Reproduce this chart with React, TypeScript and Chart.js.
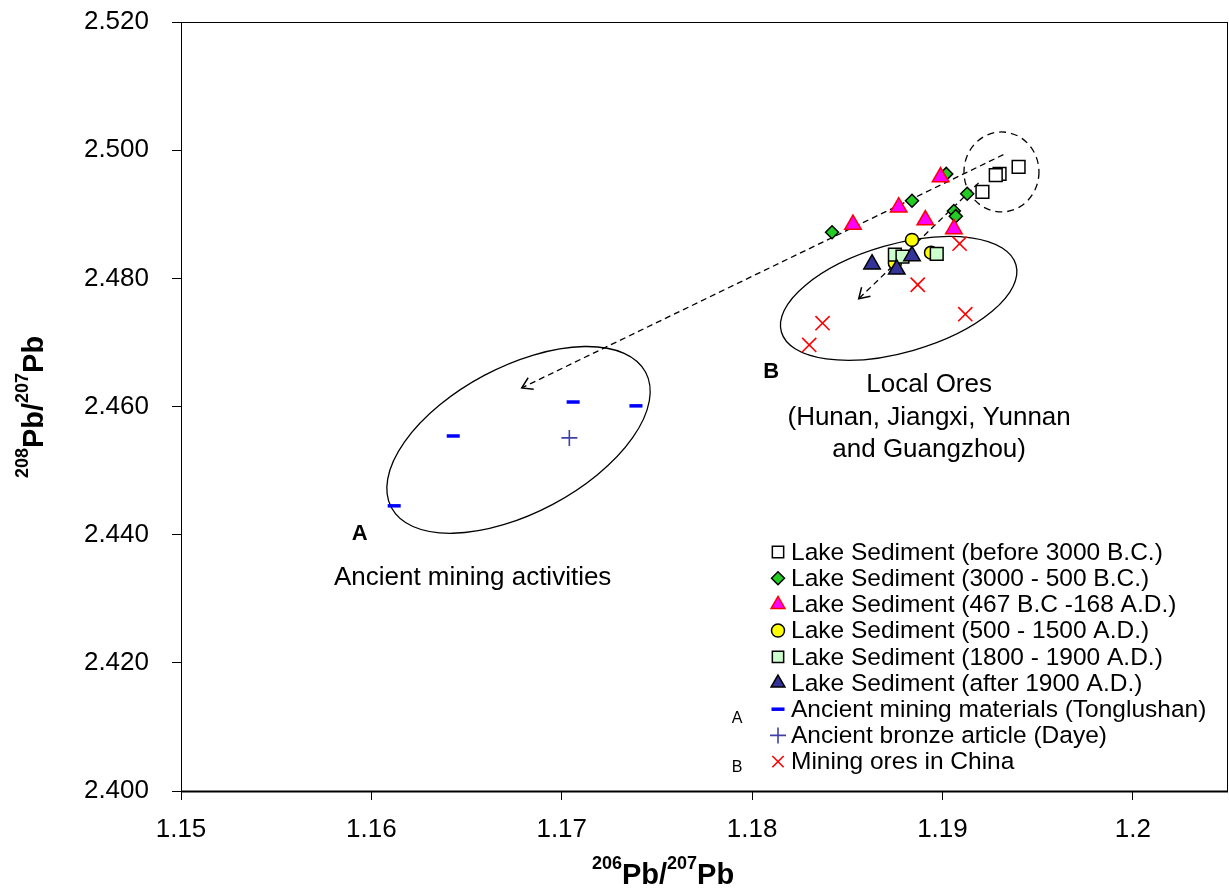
import React, { useEffect, useRef } from "react";
import { Chart, registerables } from "chart.js";
import { drawPoint } from "chart.js/helpers";

Chart.register(...registerables);

const FONT = "Arial, 'Liberation Sans', Helvetica, sans-serif";

// ---------- data ----------
const seriesNames = [
  "Lake Sediment (before 3000 B.C.)",
  "Lake Sediment (3000 - 500 B.C.)",
  "Lake Sediment (467 B.C -168 A.D.)",
  "Lake Sediment (500 - 1500 A.D.)",
  "Lake Sediment (1800 - 1900 A.D.)",
  "Lake Sediment (after 1900 A.D.)",
  "Ancient mining materials (Tonglushan)",
  "Ancient bronze article (Daye)",
  "Mining ores in China",
];

const before3000X = [1.194, 1.193, 1.1928, 1.1921];
const before3000Y = [2.4974, 2.4963, 2.4961, 2.4935];

const bc3000to500X = [1.1842, 1.1884, 1.1902, 1.1913, 1.1906, 1.1907];
const bc3000to500Y = [2.4872, 2.4921, 2.4963, 2.4932, 2.4905, 2.4897];

const bc467toAd168X = [1.1899, 1.1877, 1.1853, 1.1891, 1.1906];
const bc467toAd168Y = [2.4958, 2.4911, 2.4884, 2.4891, 2.4877];

const ad500to1500X = [1.1884, 1.1894, 1.1875];
const ad500to1500Y = [2.486, 2.484, 2.4824];

const ad1800to1900X = [1.1875, 1.1879, 1.1897];
const ad1800to1900Y = [2.4837, 2.4834, 2.4838];

const after1900X = [1.1863, 1.1884, 1.1876];
const after1900Y = [2.4822, 2.4835, 2.4814];

const tonglushanX = [1.1706, 1.1739, 1.1643, 1.1612];
const tonglushanY = [2.4607, 2.4601, 2.4554, 2.4445];

const dayeX = [1.1704];
const dayeY = [2.4551];

const chinaOresX = [1.1909, 1.1887, 1.1912, 1.1837, 1.183];
const chinaOresY = [2.4854, 2.479, 2.4744, 2.473, 2.4696];

const xTicks = [1.15, 1.16, 1.17, 1.18, 1.19, 1.2];
const yTicks = [2.4, 2.42, 2.44, 2.46, 2.48, 2.5, 2.52];

const seriesX = [before3000X, bc3000to500X, bc467toAd168X, ad500to1500X, ad1800to1900X, after1900X, tonglushanX, dayeX, chinaOresX];
const seriesY = [before3000Y, bc3000to500Y, bc467toAd168Y, ad500to1500Y, ad1800to1900Y, after1900Y, tonglushanY, dayeY, chinaOresY];

// ---------- styles ----------
const seriesStyles = [
  { pointStyle: "rect", radius: 9, bg: "#ffffff", border: "#000000", bw: 1.5 },
  { pointStyle: "rectRot", radius: 6.5, bg: "#22cc22", border: "#000000", bw: 1.5 },
  { pointStyle: "triangle", radius: 9.5, bg: "#ff00ff", border: "#ff0000", bw: 1.5 },
  { pointStyle: "circle", radius: 6.5, bg: "#ffff00", border: "#000000", bw: 1.5 },
  { pointStyle: "rect", radius: 9, bg: "#ccffcc", border: "#000000", bw: 1.5 },
  { pointStyle: "triangle", radius: 9.5, bg: "#333399", border: "#000000", bw: 1.5 },
  { pointStyle: "line", radius: 6.5, bg: "#0000ff", border: "#0000ff", bw: 3.5 },
  { pointStyle: "cross", radius: 8, bg: "#4040a8", border: "#4040a8", bw: 1.6 },
  { pointStyle: "crossRot", radius: 10, bg: "#ff0000", border: "#ff0000", bw: 1.6 },
];

// annotations, positioned in data units
const ellipses = [
  { x: 1.1931, y: 2.4966, a: 37.5, b: 40, angle: 0, dash: [7, 5] },
  { x: 1.1877, y: 2.47687, a: 122, b: 54, angle: -16, dash: [] as number[] },
  { x: 1.16773, y: 2.45479, a: 144, b: 73, angle: -28, dash: [] as number[] },
];
const arrows = [
  { x1: 1.1932, y1: 2.4993, x2: 1.1679, y2: 2.4629 },
  { x1: 1.1919, y1: 2.4949, x2: 1.1856, y2: 2.4768 },
];
const notes = [
  { text: "A", x: 1.15939, y: 2.43919, bold: true, size: 22 },
  { text: "Ancient mining activities", x: 1.16532, y: 2.43217, bold: false, size: 26 },
  { text: "B", x: 1.18101, y: 2.46446, bold: true, size: 22 },
  { text: "Local Ores", x: 1.1893, y: 2.46228, bold: false, size: 26 },
  { text: "(Hunan, Jiangxi, Yunnan", x: 1.1893, y: 2.45713, bold: false, size: 26 },
  { text: "and Guangzhou)", x: 1.1893, y: 2.45214, bold: false, size: 26 },
];

const annotationPlugin = {
  id: "annotations",
  beforeDatasetsDraw(chart: any) {
    const { ctx, scales } = chart;
    const xs = scales.x;
    const ys = scales.y;
    ctx.save();
    ctx.strokeStyle = "#000";
    ctx.lineWidth = 1.3;
    for (const e of ellipses) {
      ctx.setLineDash(e.dash);
      ctx.beginPath();
      ctx.ellipse(xs.getPixelForValue(e.x), ys.getPixelForValue(e.y), e.a, e.b, (e.angle * Math.PI) / 180, 0, Math.PI * 2);
      ctx.stroke();
    }
    for (const ar of arrows) {
      const x1 = xs.getPixelForValue(ar.x1);
      const y1 = ys.getPixelForValue(ar.y1);
      const x2 = xs.getPixelForValue(ar.x2);
      const y2 = ys.getPixelForValue(ar.y2);
      ctx.setLineDash([6, 4]);
      ctx.lineWidth = 1.3;
      ctx.beginPath();
      ctx.moveTo(x1, y1);
      ctx.lineTo(x2, y2);
      ctx.stroke();
      ctx.setLineDash([]);
      const ang = Math.atan2(y1 - y2, x1 - x2);
      const len = 12;
      const spread = (32 * Math.PI) / 180;
      ctx.lineWidth = 1.5;
      ctx.beginPath();
      ctx.moveTo(x2 + Math.cos(ang + spread) * len, y2 + Math.sin(ang + spread) * len);
      ctx.lineTo(x2, y2);
      ctx.lineTo(x2 + Math.cos(ang - spread) * len, y2 + Math.sin(ang - spread) * len);
      ctx.stroke();
    }
    ctx.fillStyle = "#000";
    ctx.textAlign = "center";
    ctx.textBaseline = "alphabetic";
    for (const n of notes) {
      ctx.font = `${n.bold ? "bold " : ""}${n.size}px ${FONT}`;
      ctx.fillText(n.text, xs.getPixelForValue(n.x), ys.getPixelForValue(n.y));
    }
    ctx.restore();
  },
  afterDraw(chart: any) {
    const { ctx, chartArea } = chart;
    const { left, top, right, bottom } = chartArea;
    ctx.save();
    // frame
    ctx.strokeStyle = "#000";
    ctx.lineWidth = 1;
    ctx.setLineDash([]);
    ctx.strokeRect(left + 0.5, top + 0.5, right - left - 1, bottom - top);
    ctx.lineWidth = 2;
    ctx.beginPath();
    ctx.moveTo(left, bottom + 0.5);
    ctx.lineTo(right, bottom + 0.5);
    ctx.stroke();

    // legend
    const mx = 778;
    const tx = 791;
    const y0 = 552;
    const dy = 26.2;
    ctx.textAlign = "left";
    ctx.textBaseline = "middle";
    chart.data.datasets.forEach((ds: any, i: number) => {
      const st = seriesStyles[i];
      const y = y0 + i * dy;
      ctx.fillStyle = st.bg;
      ctx.strokeStyle = st.border;
      ctx.lineWidth = st.bw;
      drawPoint(ctx, { pointStyle: st.pointStyle, radius: Math.min(st.radius, 8), borderWidth: st.bw, rotation: 0 } as any, mx, y);
      ctx.fillStyle = "#000";
      ctx.font = `24.5px ${FONT}`;
      ctx.fillText(ds.label, tx, y + 1);
    });
    ctx.font = `16px ${FONT}`;
    ctx.textAlign = "center";
    ctx.fillText("A", 737, 719);
    ctx.fillText("B", 737, 768);

    // axis titles
    const supFont = `bold 18px ${FONT}`;
    const mainFont = `bold 29px ${FONT}`;
    const measure = (parts: any[]) =>
      parts.reduce((w, p) => {
        ctx.font = p.sup ? supFont : mainFont;
        return w + ctx.measureText(p.t).width;
      }, 0);
    const drawParts = (parts: any[], startX: number, baseY: number) => {
      let x = startX;
      ctx.textAlign = "left";
      ctx.textBaseline = "alphabetic";
      for (const p of parts) {
        ctx.font = p.sup ? supFont : mainFont;
        ctx.fillText(p.t, x, p.sup ? baseY - 15 : baseY);
        x += ctx.measureText(p.t).width;
      }
    };
    ctx.fillStyle = "#000";
    const xParts = [
      { t: "206", sup: true },
      { t: "Pb/", sup: false },
      { t: "207", sup: true },
      { t: "Pb", sup: false },
    ];
    const xw = measure(xParts);
    drawParts(xParts, 663 - xw / 2, 884);

    const yParts = [
      { t: "208", sup: true },
      { t: "Pb/", sup: false },
      { t: "207", sup: true },
      { t: "Pb", sup: false },
    ];
    const yw = measure(yParts);
    ctx.translate(43, 407);
    ctx.rotate(-Math.PI / 2);
    drawParts(yParts, -yw / 2, 0);
    ctx.restore();
  },
};

export default function App() {
  const canvasRef = useRef<HTMLCanvasElement | null>(null);

  useEffect(() => {
    if (!canvasRef.current) return;
    const n = seriesNames.length;
    const datasets = seriesNames.map((name, i) => {
      const st = seriesStyles[i];
      return {
        label: name,
        data: seriesX[i].map((x, j) => ({ x, y: seriesY[i][j] })),
        pointStyle: st.pointStyle,
        pointRadius: st.radius,
        pointBackgroundColor: st.bg,
        pointBorderColor: st.border,
        pointBorderWidth: st.bw,
        backgroundColor: st.bg,
        borderColor: st.border,
        showLine: false,
        order: n - i,
      };
    });

    const chart = new Chart(canvasRef.current, {
      type: "scatter",
      data: { datasets },
      options: {
        responsive: false,
        animation: false,
        events: [],
        layout: { autoPadding: false, padding: { top: 22, right: 1, left: 0, bottom: 0 } },
        plugins: { legend: { display: false }, tooltip: { enabled: false }, title: { display: false } },
        scales: {
          x: {
            type: "linear",
            min: 1.15,
            max: 1.205,
            afterFit: (s: any) => {
              s.height = 99;
              s.paddingLeft = 0;
              s.paddingRight = 0;
              s.paddingTop = 0;
              s.paddingBottom = 0;
            },
            afterBuildTicks: (s: any) => {
              s.ticks = xTicks.map((v) => ({ value: v }));
            },
            ticks: {
              autoSkip: false,
              maxRotation: 0,
              padding: 14,
              color: "#000",
              font: { family: FONT, size: 26 },
              callback: (v: any) => String(Number(Number(v).toFixed(2))),
            },
            grid: { drawOnChartArea: false, drawTicks: true, tickLength: 9, color: "#000", lineWidth: 1 },
            border: { display: false },
          },
          y: {
            type: "linear",
            min: 2.4,
            max: 2.52,
            afterFit: (s: any) => {
              s.width = 181;
              s.paddingLeft = 0;
              s.paddingRight = 0;
              s.paddingTop = 0;
              s.paddingBottom = 0;
            },
            afterBuildTicks: (s: any) => {
              s.ticks = yTicks.map((v) => ({ value: v }));
            },
            ticks: {
              autoSkip: false,
              padding: 23,
              color: "#000",
              font: { family: FONT, size: 26 },
              callback: (v: any) => Number(v).toFixed(3),
            },
            grid: { drawOnChartArea: false, drawTicks: true, tickLength: 9, color: "#000", lineWidth: 1 },
            border: { display: false },
          },
        },
      } as any,
      plugins: [annotationPlugin],
    });
    return () => chart.destroy();
  }, []);

  return (
    <div style={{ position: "absolute", left: 0, top: 0, width: 1229, height: 890, background: "#fff" }}>
      <canvas ref={canvasRef} width={1229} height={890} style={{ display: "block" }} />
    </div>
  );
}
